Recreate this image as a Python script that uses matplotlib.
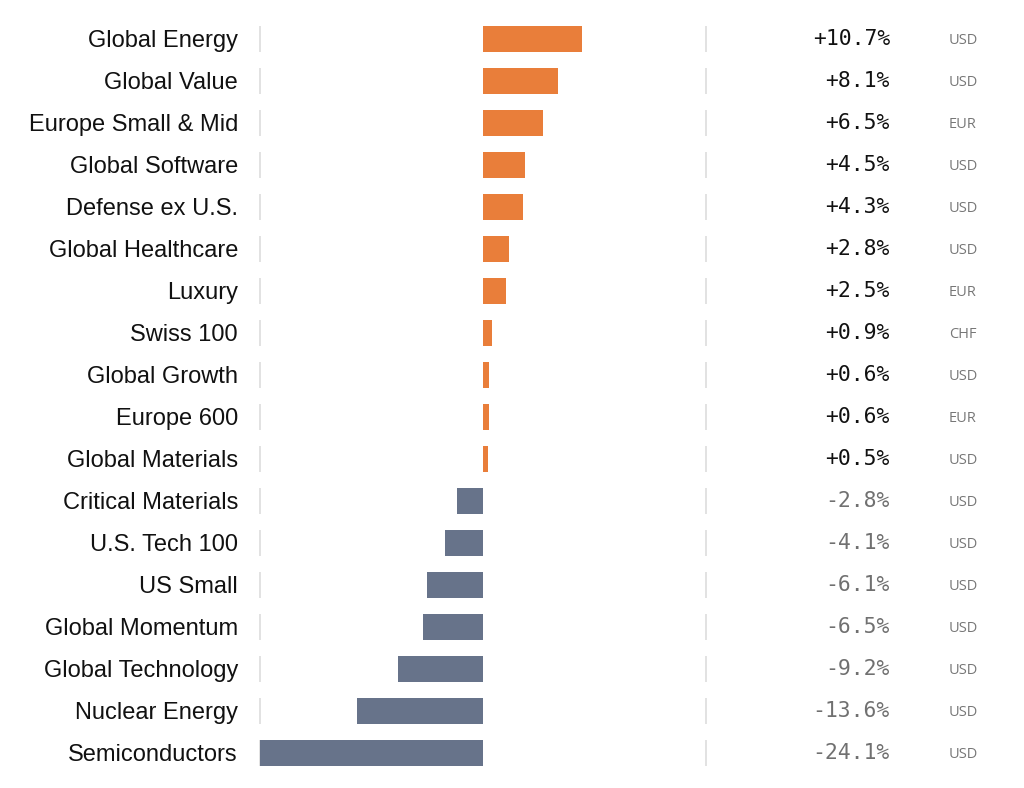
import matplotlib
matplotlib.use('Agg')
import matplotlib.pyplot as plt

names = ['Global Energy', 'Global Value', 'Europe Small & Mid', 'Global Software',
         'Defense ex U.S.', 'Global Healthcare', 'Luxury', 'Swiss 100',
         'Global Growth', 'Europe 600', 'Global Materials', 'Critical Materials',
         'U.S. Tech 100', 'US Small', 'Global Momentum', 'Global Technology',
         'Nuclear Energy', 'Semiconductors']
returns = [10.7, 8.1, 6.5, 4.5, 4.3, 2.8, 2.5, 0.9, 0.6, 0.6, 0.5,
           -2.8, -4.1, -6.1, -6.5, -9.2, -13.6, -24.1]
currency = ['USD', 'USD', 'EUR', 'USD', 'USD', 'USD', 'EUR', 'CHF', 'USD', 'EUR',
            'USD', 'USD', 'USD', 'USD', 'USD', 'USD', 'USD', 'USD']

ORANGE = '#E97E3A'
SLATE = '#67738A'
SEP = '#E2E2E2'

W, H = 1024, 788
PX = 9.26      # pixels per percent point
X0 = 483.3     # pixel of zero line
ROW0, ROWH = 38.9, 42.0


def px2x(p):
    return (p - X0) / PX


def dy(p):
    # pixel offset below row centre -> data units
    return p / ROWH


fig = plt.figure(figsize=(W / 100, H / 100), dpi=100)
ax = fig.add_axes([0, 0, 1, 1])
ax.set_xlim(px2x(0), px2x(W))
ax.set_ylim((H - ROW0) / ROWH, -ROW0 / ROWH)
ax.axis('off')

rows = list(range(len(names)))
colors = [ORANGE if v >= 0 else SLATE for v in returns]
ax.barh(rows, returns, height=0.612, color=colors, zorder=2)

lim = max(abs(v) for v in returns)
for i, (n, v, c) in enumerate(zip(names, returns, currency)):
    for xs in (-lim, px2x(706)):
        ax.plot([xs, xs], [i - 0.306, i + 0.306], color=SEP, lw=1.4, zorder=1,
                solid_capstyle='butt')
    ax.text(px2x(238), i + dy(7.8), n, ha='right', va='baseline', fontsize=17,
            family='Liberation Sans', color='#111111')
    ax.text(px2x(890), i + dy(6.0), f'{v:+.1f}%', ha='right', va='baseline',
            fontsize=15.4, family='DejaVu Sans Mono',
            color='#111111' if v >= 0 else '#707070')
    ax.text(px2x(949), i + dy(5.2), c, ha='left', va='baseline', fontsize=10.5,
            family='Open Sans', color='#777777')

fig.savefig('out.png', dpi=100)
